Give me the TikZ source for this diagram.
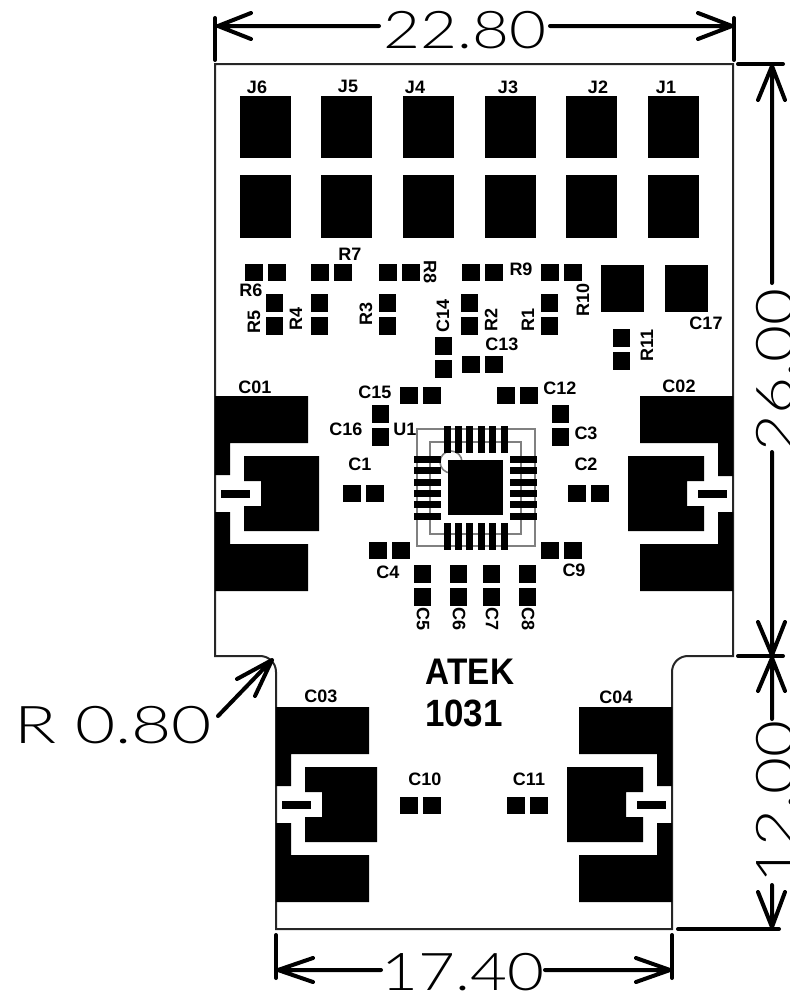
\documentclass[tikz,border=0pt]{standalone}
\usepackage{fontspec}
\setmainfont{Liberation Sans}
\newfontfamily\dimfont{Lato Light}
\newcommand{\pd}[4]{\fill[black] (#1,#2) rectangle (#3,#4);}
\newcommand{\hpair}[3]{\pd{#1}{#2}{#1+18}{#2+17}\pd{#1+23}{#2}{#1+41}{#2+17}}
\newcommand{\vpair}[3]{\pd{#1}{#2}{#1+17}{#2+18}\pd{#1}{#2+23}{#1+17}{#2+41}}
\newcommand{\dtext}[4]{\node[dimlabel,rotate=#3] (#4) at (#1) {\scalebox{1.25}[1.02]{#2}};}
\tikzset{
  lbl/.style={font=\fontsize{18}{18}\selectfont\bfseries,inner sep=0pt,text=black},
  dimlabel/.style={font=\dimfont\fontsize{51}{51}\selectfont,inner sep=0pt,text=black},
  dimline/.style={line width=4pt,line cap=round,line join=round,black},
  outline/.style={line width=2pt,black!85},
  silk/.style={line width=1.6pt,black!50}
}
\begin{document}
\begin{tikzpicture}[x=1pt,y=-1pt]
\useasboundingbox (0,0) rectangle (790,999);
\clip (0,0) rectangle (790,999);
% board outline
\draw[outline] (215,64) -- (215,656) -- (260,656) .. controls (269,656) and (276,663) .. (276,672) -- (276,929) -- (672,929) -- (672,672) .. controls (672,663) and (679,656) .. (688,656) -- (733,656) -- (733,64) -- cycle;
% J pads
\foreach \x in {240,321,403,485,566,648}{\pd{\x}{96}{\x+51}{158}\pd{\x}{175}{\x+51}{238}}
% passives
\hpair{245}{264}{}\hpair{311}{264}{}\hpair{379}{264}{}\hpair{462}{264}{}\hpair{541}{264}{}
\vpair{266}{294}{}\vpair{311}{294}{}\vpair{379}{294}{}\vpair{461}{294}{}\vpair{541}{294}{}
\vpair{435}{337}{}\hpair{462}{356}{}\vpair{613}{329}{}
\hpair{400}{387}{}\hpair{497}{387}{}\vpair{372}{405}{}\vpair{552}{405}{}
\hpair{343}{485}{}\hpair{568}{485}{}\hpair{369}{542}{}\hpair{541}{542}{}
\vpair{414}{565}{}\vpair{450}{565}{}\vpair{483}{565}{}\vpair{519}{565}{}
\hpair{400}{797}{}\hpair{507}{797}{}
\pd{601}{265}{644}{312}\pd{665}{265}{708}{312}
% QFN
\draw[silk] (417,429) rectangle (535,546);
\draw[silk] (430,442) rectangle (521,534);
\draw[silk] (451,462) circle[radius=11];
\pd{448}{460}{503}{515}
\foreach \x in {444,455,466,478,489,501}{\pd{\x}{426}{\x+7}{453}\pd{\x}{523}{\x+7}{550}}
\foreach \y in {456,467,479,490,501,513}{\pd{414}{\y}{441}{\y+7}\pd{510}{\y}{537}{\y+7}}
% large capacitors, left-hand
\fill[black] (215,396) -- (308,396) -- (308,443) -- (230,443) -- (230,475) -- (215,475) -- cycle;
\fill[black] (215,512) -- (230,512) -- (230,544) -- (308,544) -- (308,591) -- (215,591) -- cycle;
\fill[black] (244,456) -- (319,456) -- (319,531) -- (244,531) -- (244,506) -- (261,506) -- (261,481) -- (244,481) -- cycle;
\pd{221}{490}{250}{498}
% right-hand
\fill[black] (733,396) -- (640,396) -- (640,443) -- (718,443) -- (718,476) -- (733,476) -- cycle;
\fill[black] (733,512) -- (718,512) -- (718,544) -- (640,544) -- (640,591) -- (733,591) -- cycle;
\fill[black] (704,456) -- (628,456) -- (628,531) -- (704,531) -- (704,506) -- (687,506) -- (687,481) -- (704,481) -- cycle;
\pd{698}{490}{727}{498}
% lower left
\fill[black] (276,707) -- (369,707) -- (369,754) -- (291,754) -- (291,786) -- (276,786) -- cycle;
\fill[black] (276,823) -- (291,823) -- (291,855) -- (369,855) -- (369,902) -- (276,902) -- cycle;
\fill[black] (305,767) -- (377,767) -- (377,842) -- (305,842) -- (305,817) -- (322,817) -- (322,792) -- (305,792) -- cycle;
\pd{282}{801}{311}{809}
% lower right
\fill[black] (672,707) -- (579,707) -- (579,754) -- (657,754) -- (657,786) -- (672,786) -- cycle;
\fill[black] (672,823) -- (657,823) -- (657,855) -- (579,855) -- (579,902) -- (672,902) -- cycle;
\fill[black] (643,767) -- (567,767) -- (567,842) -- (643,842) -- (643,817) -- (626,817) -- (626,792) -- (643,792) -- cycle;
\pd{637}{801}{666}{809}
% labels
\foreach \t/\x/\y in {J6/257/87,J5/348/86,J4/415/87,J3/508/87,J2/598/87,J1/666/87,R7/350/254,R6/251/290,R9/521/269,C13/502/344,C17/706/323,C01/255/387,C02/679/386,C15/375/392,C12/560/388,C16/346/429,U1/405/429,C3/586/433,C1/360/464,C2/586/464,C4/388/572,C9/574/570,C03/321/696,C04/616/697,C10/425/779,C11/529/779}{\node[lbl] (l\t) at (\x,\y) {\t};}
\foreach \t/\x/\y in {R10/583/300,R5/254/322,R4/296/319,R3/366/314,C14/443/316,R2/491/320,R1/528/320,R11/647/345}{\node[lbl,rotate=90] (l\t) at (\x,\y) {\t};}
\foreach \t/\x/\y in {R8/430/272,C5/423/619,C6/459/619,C7/492/619,C8/528/619}{\node[lbl,rotate=-90] (l\t) at (\x,\y) {\t};}
\node[lbl,font=\fontsize{37}{37}\selectfont\bfseries] (atek) at (470,671.5) {\scalebox{0.9}[1]{ATEK}};
\node[lbl,font=\fontsize{38}{38}\selectfont\bfseries] (yr) at (464,713.5) {\scalebox{0.92}[1]{1031}};
% dimensions
\draw[dimline] (215,18) -- (215,60) (734,18) -- (734,60);
\draw[dimline] (251,13) -- (218,26) -- (251,39) (218,26) -- (379,26);
\draw[dimline] (698,13) -- (732,26) -- (698,39) (732,26) -- (550,26);
\dtext{465,30}{22.80}{0}{d1}
\draw[dimline] (276,935) -- (276,978) (672,935) -- (672,978);
\draw[dimline] (313,958) -- (278,970) -- (313,982) (278,970) -- (381,970);
\draw[dimline] (636,958) -- (670,970) -- (636,982) (670,970) -- (545,970);
\dtext{463,972}{17.40}{0}{d2}
\draw[dimline] (738,64) -- (783,64) (738,656) -- (783,656) (678,929) -- (779,929);
\draw[dimline] (758,100) -- (772,66) -- (785,100) (772,66) -- (772,283);
\draw[dimline] (758,622) -- (772,655) -- (785,622) (772,655) -- (772,452);
\draw[dimline] (758,691) -- (772,658) -- (785,691) (772,658) -- (772,719);
\draw[dimline] (758,892) -- (772,927) -- (785,892) (772,927) -- (772,885);
\dtext{775.5,370}{26.00}{90}{d3}
\dtext{775.5,802}{12.00}{90}{d4}
\node[dimlabel,anchor=west] (d5) at (14,725) {\scalebox{1.36}[1.02]{R 0.80}};
\draw[dimline] (218,716) -- (272,660) (237,679) -- (272,660) -- (255,696);
\end{tikzpicture}
\end{document}
